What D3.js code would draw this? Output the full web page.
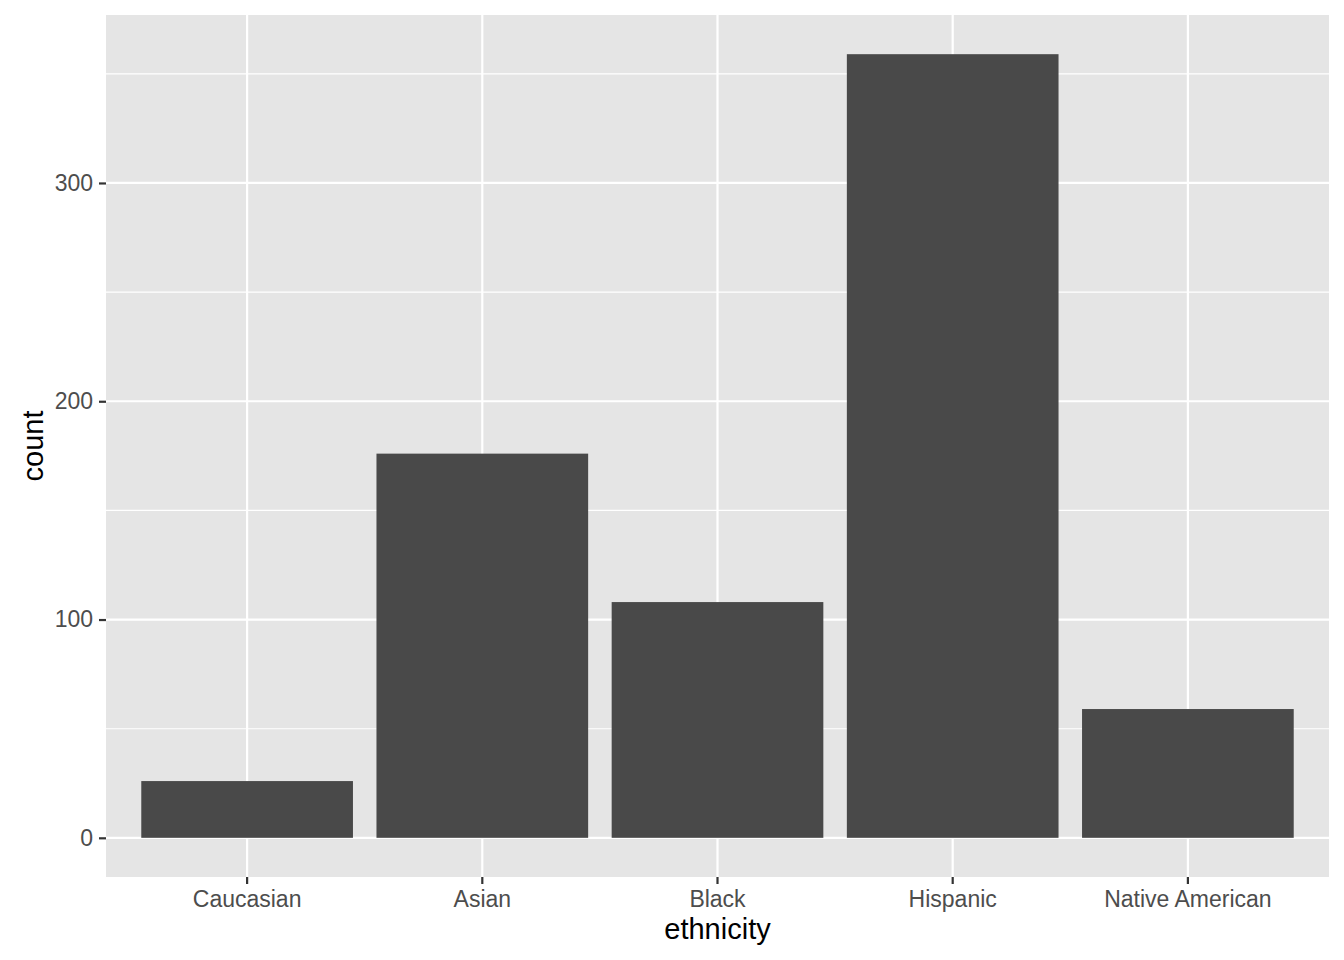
<!DOCTYPE html>
<html>
<head>
<meta charset="utf-8">
<script src="https://cdn.jsdelivr.net/npm/d3@7"></script>
<style>
  html, body { margin: 0; padding: 0; background: #ffffff; }
  svg { display: block; }
</style>
</head>
<body>
<svg id="chart" width="1344" height="960"></svg>
<script>
const categories = ["Caucasian", "Asian", "Black", "Hispanic", "Native American"];
const counts = [26, 176, 108, 359, 59];
const yTicks = [0, 100, 200, 300];
const yMinorTicks = [50, 150, 250, 350];
const xTitle = "ethnicity";
const yTitle = "count";

const W = 1344, H = 960;
const panel = { left: 106, right: 1329, top: 15, bottom: 877 };
const svg = d3.select("#chart");
const font = "'Liberation Sans', Arial, Helvetica, sans-serif";

const maxV = d3.max(counts);
const y = d3.scaleLinear()
  .domain([-0.05 * maxV, maxV * 1.05])
  .range([panel.bottom, panel.top]);

// discrete scale with 0.6 expansion on each side
const n = categories.length;
const xc = d3.scaleLinear().domain([1 - 0.6, n + 0.6]).range([panel.left, panel.right]);
const x = d3.scaleBand().domain(categories)
  .range([xc(0.5), xc(n + 0.5)]).paddingInner(0.1).paddingOuter(0.05);
const center = c => x(c) + x.bandwidth() / 2;

// panel background
svg.append("rect")
  .attr("x", panel.left).attr("y", panel.top)
  .attr("width", panel.right - panel.left).attr("height", panel.bottom - panel.top)
  .attr("fill", "#E5E5E5");

// minor grid
svg.append("g").selectAll("line").data(yMinorTicks).join("line")
  .attr("x1", panel.left).attr("x2", panel.right)
  .attr("y1", d => y(d)).attr("y2", d => y(d))
  .attr("stroke", "#ffffff").attr("stroke-width", 1.1);

// major grid
svg.append("g").selectAll("line").data(yTicks).join("line")
  .attr("x1", panel.left).attr("x2", panel.right)
  .attr("y1", d => y(d)).attr("y2", d => y(d))
  .attr("stroke", "#ffffff").attr("stroke-width", 2.2);
svg.append("g").selectAll("line").data(categories).join("line")
  .attr("x1", d => center(d)).attr("x2", d => center(d))
  .attr("y1", panel.top).attr("y2", panel.bottom)
  .attr("stroke", "#ffffff").attr("stroke-width", 2.2);

// bars
svg.append("g").selectAll("rect").data(categories).join("rect")
  .attr("x", d => x(d))
  .attr("width", x.bandwidth())
  .attr("y", (d, i) => y(counts[i]))
  .attr("height", (d, i) => y(0) - y(counts[i]))
  .attr("fill", "#494949");

// y axis
const yAxis = d3.axisLeft(y).tickValues(yTicks).tickSize(7).tickPadding(6).tickFormat(d3.format("d"));
const gy = svg.append("g").attr("transform", `translate(${panel.left},0)`).call(yAxis);
gy.select(".domain").remove();
gy.selectAll(".tick line").attr("stroke", "#333333").attr("stroke-width", 2.2);
gy.selectAll(".tick text").attr("fill", "#4D4D4D").style("font-family", font).style("font-size", "23px");

// x axis
const xAxis = d3.axisBottom(x).tickSize(7).tickPadding(7);
const gx = svg.append("g").attr("transform", `translate(0,${panel.bottom})`).call(xAxis);
gx.select(".domain").remove();
gx.selectAll(".tick line").attr("stroke", "#333333").attr("stroke-width", 2.2);
gx.selectAll(".tick text").attr("fill", "#4D4D4D").style("font-family", font).style("font-size", "23px");

// titles
svg.append("text")
  .attr("x", (panel.left + panel.right) / 2).attr("y", 939)
  .attr("text-anchor", "middle")
  .style("font-family", font).style("font-size", "29px").attr("fill", "#000000")
  .text(xTitle);
svg.append("text")
  .attr("transform", `translate(43,${(panel.top + panel.bottom) / 2}) rotate(-90)`)
  .attr("text-anchor", "middle")
  .style("font-family", font).style("font-size", "29px").attr("fill", "#000000")
  .text(yTitle);
</script>
</body>
</html>
